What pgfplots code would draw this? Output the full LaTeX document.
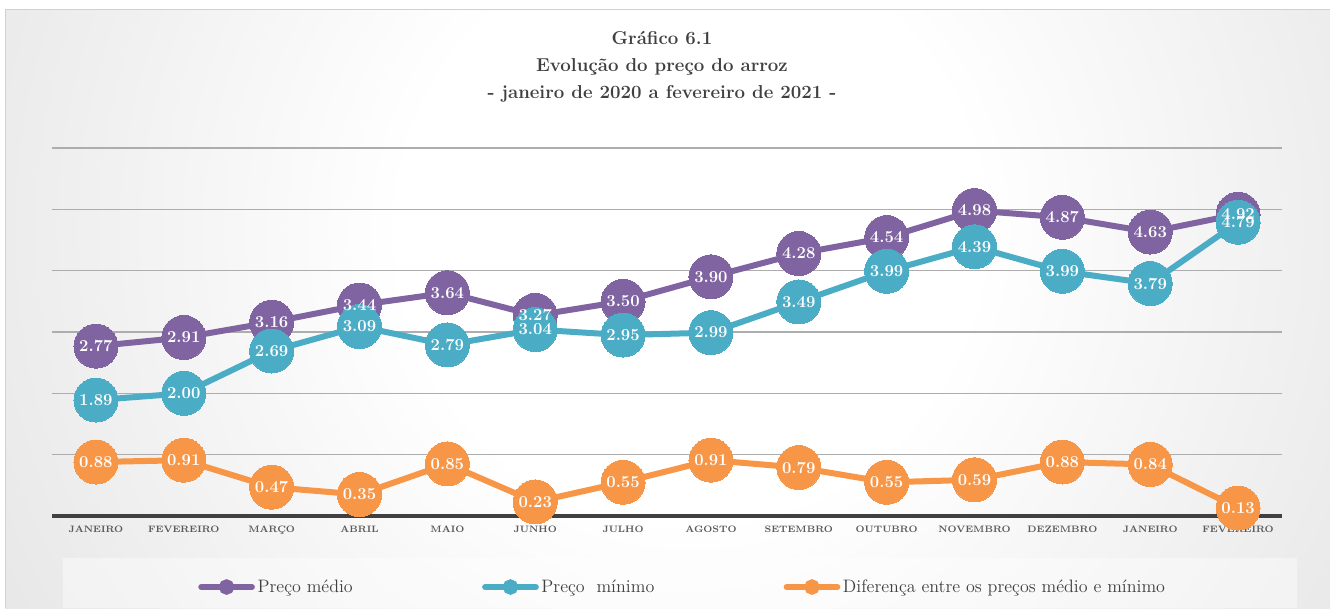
\documentclass[border=0pt]{standalone}
\usepackage{pgfplots}
\pgfplotsset{compat=1.18}
\definecolor{cpur}{HTML}{8064A2}
\definecolor{cblu}{HTML}{4BACC6}
\definecolor{corg}{HTML}{F79646}
\definecolor{ctxt}{HTML}{404040}
\pgfdeclareradialshading{bgshade}{\pgfpoint{0bp}{0bp}}{color(0bp)=(white); color(9bp)=(white); color(44bp)=(black!21); color(50bp)=(black!23)}
\begin{document}
\begin{tikzpicture}[x=1pt,y=1pt]
\useasboundingbox (0,0) rectangle (997.5,456);
\fill[white] (0,0) rectangle (997.5,456);
\begin{scope}
\clip (3.75,0) rectangle (997.5,448.5);
\shade[shading=bgshade] (-82.5,-316.5) rectangle (1117.5,883.5);
\end{scope}
\draw[black!18, line width=0.75pt] (3.75,0) -- (3.75,448.5) -- (997.5,448.5);
\fill[white, opacity=0.4] (47.25,0) rectangle (972.75,37.5);
\node[align=center, font=\fontsize{14}{20.25}\selectfont\bfseries, text=ctxt] at (496.5,405.75) {Gráfico 6.1\\Evolução do preço do arroz\\- janeiro de 2020 a fevereiro de 2021 -};
\begin{axis}[
  at={(39pt,69pt)}, anchor=south west,
  scale only axis, width=922.5pt, height=276pt,
  xmin=-0.5, xmax=13.5, ymin=0, ymax=6,
  axis line style={draw=none},
  ytick={1,2,3,4,5,6}, yticklabels={},
  ymajorgrids, grid style={black!32, line width=0.9pt},
  extra y ticks={0}, extra y tick labels={},
  extra y tick style={grid style={ctxt, line width=3pt}},
  major tick length=0pt,
  xtick={0,...,13},
  xticklabels={JANEIRO, FEVEREIRO, MARÇO, ABRIL, MAIO, JUNHO, JULHO, AGOSTO, SETEMBRO, OUTUBRO, NOVEMBRO, DEZEMBRO, JANEIRO, FEVEREIRO},
  xticklabel style={font=\fontsize{7}{9}\selectfont\bfseries, text=black!65, yshift=-4pt},
  clip=false,
  /pgf/number format/.cd, fixed, fixed zerofill, precision=2, assume math mode=true,
  /pgfplots/.cd,
  legend columns=3,
  legend style={at={(0.513,-0.193)}, anchor=center, draw=none, fill=none,
    font=\fontsize{13.5}{15}\selectfont, text=ctxt,
    /tikz/every even column/.append style={column sep=95pt}},
  legend image code/.code={\draw[mark=none, line width=4.5pt, line cap=round] (0pt,0pt) -- (38pt,0pt); \fill (19pt,0pt) circle (3.5pt);},
  every node near coord/.append style={anchor=center, text=white, font=\fontsize{12.5}{12.5}\selectfont\bfseries},
]
\addplot[cpur, line width=4.5pt, mark=*, mark size=16.5pt, mark options={line width=0pt}] table {
0 2.77
1 2.91
2 3.16
3 3.44
4 3.64
5 3.27
6 3.50
7 3.90
8 4.28
9 4.54
10 4.98
11 4.87
12 4.63
13 4.92
};
\addlegendentry{Preço médio}
\addplot[cblu, line width=4.5pt, mark=*, mark size=16.5pt, mark options={line width=0pt}] table {
0 1.89
1 2.00
2 2.69
3 3.09
4 2.79
5 3.04
6 2.95
7 2.99
8 3.49
9 3.99
10 4.39
11 3.99
12 3.79
13 4.79
};
\addlegendentry{Preço\ \ mínimo}
\addplot[corg, line width=4.5pt, mark=*, mark size=16.5pt, mark options={line width=0pt}] table {
0 0.88
1 0.91
2 0.47
3 0.35
4 0.85
5 0.23
6 0.55
7 0.91
8 0.79
9 0.55
10 0.59
11 0.88
12 0.84
13 0.13
};
\addlegendentry{Diferença entre os preços médio e mínimo}
\addplot[draw=none, mark=none, forget plot, nodes near coords, point meta=y] table {
0 2.77
1 2.91
2 3.16
3 3.44
4 3.64
5 3.27
6 3.50
7 3.90
8 4.28
9 4.54
10 4.98
11 4.87
12 4.63
13 4.92
};
\addplot[draw=none, mark=none, forget plot, nodes near coords, point meta=y] table {
0 1.89
1 2.00
2 2.69
3 3.09
4 2.79
5 3.04
6 2.95
7 2.99
8 3.49
9 3.99
10 4.39
11 3.99
12 3.79
13 4.79
};
\addplot[draw=none, mark=none, forget plot, nodes near coords, point meta=y] table {
0 0.88
1 0.91
2 0.47
3 0.35
4 0.85
5 0.23
6 0.55
7 0.91
8 0.79
9 0.55
10 0.59
11 0.88
12 0.84
13 0.13
};
\end{axis}
\end{tikzpicture}
\end{document}
